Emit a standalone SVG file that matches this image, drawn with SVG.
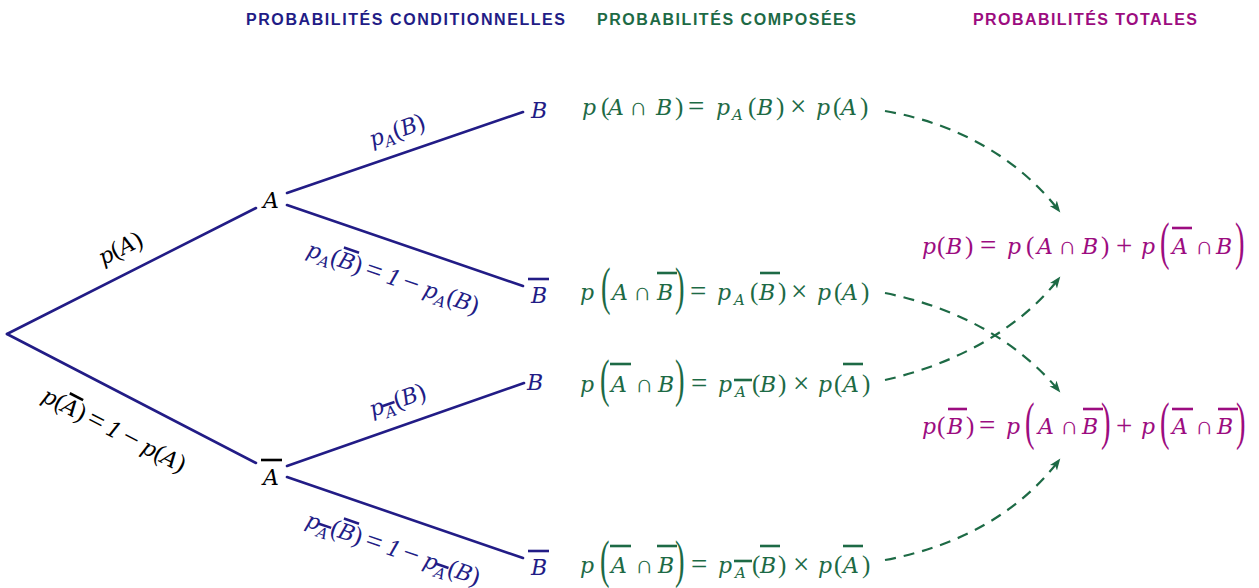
<svg xmlns="http://www.w3.org/2000/svg" width="1259" height="588" viewBox="0 0 1259 588">
<style>
.bg{fill:#ffffff}
.h{font-family:"Liberation Sans",Arial,sans-serif;font-weight:bold;font-size:16px}
.t{font-family:"DejaVu Serif",serif;font-style:italic;font-size:22px;stroke:none}
.s{font-family:"DejaVu Serif",serif;font-style:italic;font-size:15px;stroke:none}
.o{font-family:"Liberation Serif","Times New Roman",serif;font-style:normal;font-size:25px;stroke:none}
.op{font-family:"Liberation Serif","Times New Roman",serif;font-style:normal;font-size:29px;stroke:none}
.bp{font-family:"Liberation Serif","Times New Roman",serif;font-size:52px;font-style:normal;stroke:none}
.ol{stroke-width:2.6;fill:none}
.k{fill:#000000;stroke:#000000}
.nv{fill:#221c86;stroke:#221c86}
.gr{fill:#1d6a45;stroke:#1d6a45}
.mg{fill:#9c0c80;stroke:#9c0c80}
.branch{stroke:#221c86;stroke-width:2.6;fill:none;stroke-linecap:round}
.dash{stroke:#1d6a45;stroke-width:2.2;fill:none;stroke-dasharray:11 8}
</style>
<defs>
<marker id="arr" viewBox="0 0 12 10" refX="11" refY="5" markerWidth="12" markerHeight="10" markerUnits="userSpaceOnUse" orient="auto">
<path d="M0,0.5 L11.5,5 L0,9.5 L3,5 z" fill="#1d6a45"/>
</marker>
</defs>
<rect class="bg" x="0" y="0" width="1259" height="588"/>

<g id="headings">
<text class="h" x="246" y="25" fill="#221c86" textLength="319" lengthAdjust="spacing">PROBABILITÉS CONDITIONNELLES</text>
<text class="h" x="597" y="25" fill="#1d6a45" textLength="259" lengthAdjust="spacing">PROBABILITÉS COMPOSÉES</text>
<text class="h" x="973" y="25" fill="#9c0c80" textLength="224" lengthAdjust="spacing">PROBABILITÉS TOTALES</text>
</g>

<g id="connectors">
<line class="branch" x1="7" y1="334" x2="256" y2="208"/>
<line class="branch" x1="7" y1="334" x2="256" y2="463"/>
<line class="branch" x1="287" y1="193" x2="523" y2="112"/>
<line class="branch" x1="287" y1="205" x2="523" y2="286"/>
<line class="branch" x1="287" y1="466" x2="524" y2="383"/>
<line class="branch" x1="287" y1="477" x2="523" y2="558"/>
<path class="dash" d="M885,111 C960,124 1020,160 1060,212" marker-end="url(#arr)"/>
<path class="dash" d="M885,293 C950,306 1015,337 1060,392" marker-end="url(#arr)"/>
<path class="dash" d="M885,380 C952,365 1020,330 1060,277" marker-end="url(#arr)"/>
<path class="dash" d="M885,560 C960,546 1020,512 1060,459" marker-end="url(#arr)"/>
</g>

<g id="edge-labels">
<g class="k" transform="translate(120,248) rotate(-26.7) translate(-23,8)">
<text class="t" x="0" y="0">p</text>
<text class="o" x="14" y="0">(</text>
<text class="t" x="22" y="0">A</text>
<text class="o" x="38" y="0">)</text>
</g>
<g class="k" transform="translate(115,430) rotate(27.2) translate(-80,8)">
<text class="t" x="0" y="0">p</text>
<text class="o" x="14" y="0">(</text>
<text class="t" x="22" y="0">A</text>
<line class="ol" x1="23" y1="-20" x2="38" y2="-20"/>
<text class="o" x="38" y="0">)</text>
<text class="op" x="51" y="1">=</text>
<text class="t" x="72" y="0">1</text>
<text class="op" x="90" y="1">−</text>
<text class="t" x="112" y="0">p</text>
<text class="o" x="126" y="0">(</text>
<text class="t" x="134" y="0">A</text>
<text class="o" x="150" y="0">)</text>
</g>
<g class="nv" transform="translate(397,130) rotate(-19.2) translate(-29,8)">
<text class="t" x="0" y="0">p</text>
<text class="s" x="14" y="5">A</text>
<text class="o" x="25" y="0">(</text>
<text class="t" x="33" y="0">B</text>
<text class="o" x="49" y="0">)</text>
</g>
<g class="nv" transform="translate(393,277) rotate(18.9) translate(-90,8)">
<text class="t" x="0" y="0">p</text>
<text class="s" x="14" y="5">A</text>
<text class="o" x="25" y="0">(</text>
<text class="t" x="33" y="0">B</text>
<line class="ol" x1="34" y1="-20" x2="50" y2="-20"/>
<text class="o" x="49" y="0">)</text>
<text class="op" x="62" y="1">=</text>
<text class="t" x="84" y="0">1</text>
<text class="op" x="101" y="1">−</text>
<text class="t" x="123" y="0">p</text>
<text class="s" x="137" y="5">A</text>
<text class="o" x="148" y="0">(</text>
<text class="t" x="156" y="0">B</text>
<text class="o" x="172" y="0">)</text>
</g>
<g class="nv" transform="translate(397,400) rotate(-19.2) translate(-29,8)">
<text class="t" x="0" y="0">p</text>
<text class="s" x="14" y="6">A</text>
<line class="ol" x1="13" y1="-7" x2="26" y2="-7"/>
<text class="o" x="26" y="0">(</text>
<text class="t" x="34" y="0">B</text>
<text class="o" x="50" y="0">)</text>
</g>
<g class="nv" transform="translate(393,548) rotate(18.9) translate(-91,8)">
<text class="t" x="0" y="0">p</text>
<text class="s" x="14" y="6">A</text>
<line class="ol" x1="13" y1="-7" x2="26" y2="-7"/>
<text class="o" x="26" y="0">(</text>
<text class="t" x="34" y="0">B</text>
<line class="ol" x1="35" y1="-20" x2="51" y2="-20"/>
<text class="o" x="50" y="0">)</text>
<text class="op" x="63" y="1">=</text>
<text class="t" x="85" y="0">1</text>
<text class="op" x="102" y="1">−</text>
<text class="t" x="124" y="0">p</text>
<text class="s" x="138" y="6">A</text>
<line class="ol" x1="137" y1="-7" x2="150" y2="-7"/>
<text class="o" x="150" y="0">(</text>
<text class="t" x="158" y="0">B</text>
<text class="o" x="174" y="0">)</text>
</g>
</g>

<g id="node-root"></g>
<g id="node-A" class="k">
<text class="t" x="263" y="208">A</text>
</g>
<g id="node-Abar" class="k">
<text class="t" x="263" y="485">A</text>
<line class="ol" x1="261" y1="460" x2="282" y2="460"/>
</g>
<g id="node-AB" class="nv">
<text class="t" x="531" y="118">B</text>
</g>
<g id="node-ABbar" class="nv">
<text class="t" x="531" y="303">B</text>
<line class="ol" x1="528" y1="279" x2="549" y2="279"/>
</g>
<g id="node-AbarB" class="nv">
<text class="t" x="527" y="390">B</text>
</g>
<g id="node-AbarBbar" class="nv">
<text class="t" x="531" y="575">B</text>
<line class="ol" x1="528" y1="551" x2="549" y2="551"/>
</g>

<g id="eq-AB" class="gr">
<text class="t" x="582" y="115">p</text>
<text class="o" x="601" y="115">(</text>
<text class="t" x="608" y="115">A</text>
<text class="o" x="629" y="115">∩</text>
<text class="t" x="656" y="115">B</text>
<text class="o" x="675" y="115">)</text>
<text class="op" x="688" y="116">=</text>
<text class="t" x="716" y="115">p</text>
<text class="s" x="732" y="120">A</text>
<text class="o" x="748" y="115">(</text>
<text class="t" x="757" y="115">B</text>
<text class="o" x="776" y="115">)</text>
<text class="op" x="790" y="116">×</text>
<text class="t" x="816" y="115">p</text>
<text class="o" x="833" y="115">(</text>
<text class="t" x="841" y="115">A</text>
<text class="o" x="860" y="115">)</text>
</g>

<g id="eq-ABbar" class="gr">
<text class="t" x="580" y="300">p</text>
<text class="bp" transform="translate(601,304) scale(0.55,1)">(</text>
<text class="t" x="612" y="300">A</text>
<text class="o" x="633" y="300">∩</text>
<text class="t" x="657" y="300">B</text>
<line class="ol" x1="657" y1="273" x2="677" y2="273"/>
<text class="bp" transform="translate(675,304) scale(0.55,1)">)</text>
<text class="op" x="690" y="301">=</text>
<text class="t" x="717" y="300">p</text>
<text class="s" x="734" y="305">A</text>
<text class="o" x="750" y="300">(</text>
<text class="t" x="759" y="300">B</text>
<line class="ol" x1="760" y1="273" x2="780" y2="273"/>
<text class="o" x="778" y="300">)</text>
<text class="op" x="791" y="301">×</text>
<text class="t" x="817" y="300">p</text>
<text class="o" x="834" y="300">(</text>
<text class="t" x="842" y="300">A</text>
<text class="o" x="861" y="300">)</text>
</g>

<g id="eq-AbarB" class="gr">
<text class="t" x="580" y="392">p</text>
<text class="bp" transform="translate(600,396) scale(0.55,1)">(</text>
<text class="t" x="611" y="392">A</text>
<line class="ol" x1="610" y1="364" x2="631" y2="364"/>
<text class="o" x="635" y="392">∩</text>
<text class="t" x="658" y="392">B</text>
<text class="bp" transform="translate(675,396) scale(0.55,1)">)</text>
<text class="op" x="691" y="393">=</text>
<text class="t" x="718" y="392">p</text>
<text class="s" x="735" y="397">A</text>
<line class="ol" x1="734" y1="380" x2="752" y2="380"/>
<text class="o" x="752" y="392">(</text>
<text class="t" x="760" y="392">B</text>
<text class="o" x="778" y="392">)</text>
<text class="op" x="793" y="393">×</text>
<text class="t" x="818" y="392">p</text>
<text class="o" x="834" y="392">(</text>
<text class="t" x="843" y="392">A</text>
<line class="ol" x1="843" y1="364" x2="863" y2="364"/>
<text class="o" x="862" y="392">)</text>
</g>

<g id="eq-AbarBbar" class="gr">
<text class="t" x="580" y="573">p</text>
<text class="bp" transform="translate(600,577) scale(0.55,1)">(</text>
<text class="t" x="611" y="573">A</text>
<line class="ol" x1="610" y1="546" x2="631" y2="546"/>
<text class="o" x="635" y="573">∩</text>
<text class="t" x="658" y="573">B</text>
<line class="ol" x1="657" y1="546" x2="677" y2="546"/>
<text class="bp" transform="translate(675,577) scale(0.55,1)">)</text>
<text class="op" x="691" y="574">=</text>
<text class="t" x="718" y="573">p</text>
<text class="s" x="735" y="578">A</text>
<line class="ol" x1="734" y1="561" x2="752" y2="561"/>
<text class="o" x="752" y="573">(</text>
<text class="t" x="760" y="573">B</text>
<line class="ol" x1="760" y1="546" x2="780" y2="546"/>
<text class="o" x="778" y="573">)</text>
<text class="op" x="793" y="574">×</text>
<text class="t" x="818" y="573">p</text>
<text class="o" x="834" y="573">(</text>
<text class="t" x="843" y="573">A</text>
<line class="ol" x1="843" y1="546" x2="863" y2="546"/>
<text class="o" x="862" y="573">)</text>
</g>

<g id="total-B" class="mg">
<text class="t" x="922" y="254">p</text>
<text class="o" x="937" y="254">(</text>
<text class="t" x="946" y="254">B</text>
<text class="o" x="965" y="254">)</text>
<text class="op" x="980" y="255">=</text>
<text class="t" x="1007" y="254">p</text>
<text class="o" x="1026" y="254">(</text>
<text class="t" x="1037" y="254">A</text>
<text class="o" x="1058" y="254">∩</text>
<text class="t" x="1082" y="254">B</text>
<text class="o" x="1101" y="254">)</text>
<text class="op" x="1116" y="255">+</text>
<text class="t" x="1141" y="254">p</text>
<text class="bp" transform="translate(1160,259) scale(0.55,1)">(</text>
<text class="t" x="1172" y="254">A</text>
<line class="ol" x1="1172" y1="228" x2="1192" y2="228"/>
<text class="o" x="1195" y="254">∩</text>
<text class="t" x="1216" y="254">B</text>
<text class="bp" transform="translate(1235,259) scale(0.55,1)">)</text>
</g>

<g id="total-Bbar" class="mg">
<text class="t" x="922" y="434">p</text>
<text class="o" x="937" y="434">(</text>
<text class="t" x="947" y="434">B</text>
<line class="ol" x1="948" y1="409" x2="967" y2="409"/>
<text class="o" x="966" y="434">)</text>
<text class="op" x="979" y="435">=</text>
<text class="t" x="1006" y="434">p</text>
<text class="bp" transform="translate(1025,439) scale(0.55,1)">(</text>
<text class="t" x="1038" y="434">A</text>
<text class="o" x="1060" y="434">∩</text>
<text class="t" x="1082" y="434">B</text>
<line class="ol" x1="1083" y1="409" x2="1103" y2="409"/>
<text class="bp" transform="translate(1101,439) scale(0.55,1)">)</text>
<text class="op" x="1116" y="435">+</text>
<text class="t" x="1141" y="434">p</text>
<text class="bp" transform="translate(1160,439) scale(0.55,1)">(</text>
<text class="t" x="1172" y="434">A</text>
<line class="ol" x1="1172" y1="409" x2="1193" y2="409"/>
<text class="o" x="1195" y="434">∩</text>
<text class="t" x="1217" y="434">B</text>
<line class="ol" x1="1218" y1="409" x2="1238" y2="409"/>
<text class="bp" transform="translate(1236,439) scale(0.55,1)">)</text>
</g>
</svg>
